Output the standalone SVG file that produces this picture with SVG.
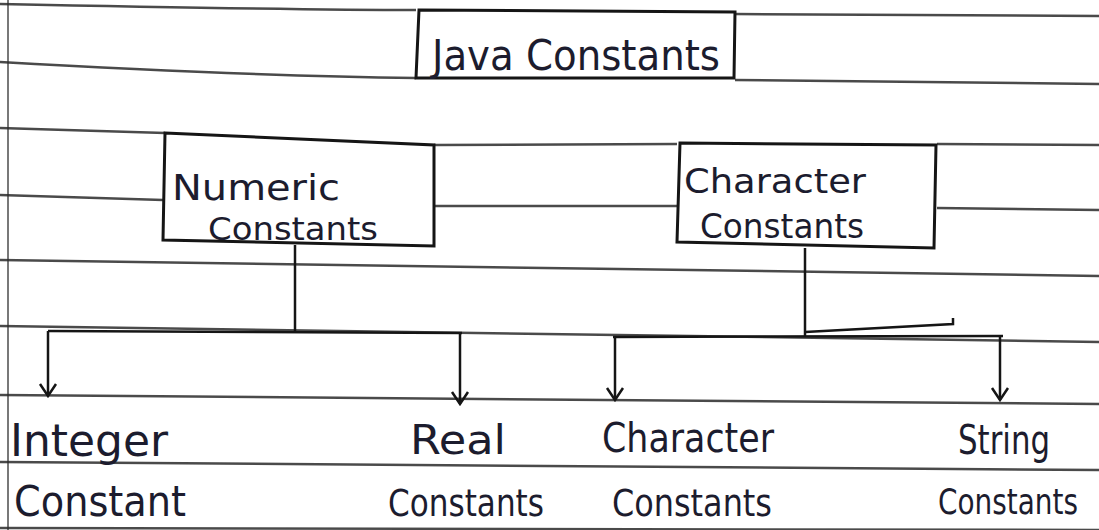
<svg xmlns="http://www.w3.org/2000/svg" width="1099" height="530" viewBox="0 0 1099 530">
<defs>
<style>
.rule{stroke:#2a2a2a;stroke-width:2.5;fill:none;opacity:0.85}
.box{stroke:#151515;stroke-width:3;fill:none}
.con{stroke:#151515;stroke-width:2.5;fill:none}
.t{font-family:"DejaVu Sans Condensed","Liberation Sans",sans-serif;fill:#1c1c2e;font-weight:normal}
</style>
<marker id="arr" viewBox="0 0 20 20" refX="18" refY="10" markerWidth="20" markerHeight="20" markerUnits="userSpaceOnUse" orient="auto">
<path d="M6,2 L18,10 L6,18" fill="none" stroke="#151515" stroke-width="2.5"/>
</marker>
</defs>
<rect width="1099" height="530" fill="#ffffff"/>
<g id="paper">
<path class="rule" d="M0,4 Q300,10 416,10 M735,14 L1099,16"/>
<path class="rule" d="M0,62 Q250,76 416,78 M735,80 L1099,84"/>
<path class="rule" d="M0,128 L165,133 M434,145 L677,144 M937,144 L1099,145"/>
<path class="rule" d="M0,195 L163,200 M434,206 L677,206 M937,208 L1099,210"/>
<path class="rule" d="M0,260 Q500,268 1099,276"/>
<path class="rule" d="M0,326 L1099,342"/>
<path class="rule" d="M0,395 Q600,402 1099,404"/>
<path class="rule" d="M0,462 Q600,466 1099,470"/>
<path class="rule" d="M0,528 L1099,530"/>
<path class="rule" d="M8,0 L8,530" style="stroke-width:1.5"/>
</g>
<g id="connectors">
<path class="con" d="M295,245 L295,331"/>
<path class="con" d="M48,331 L462,333"/>
<path class="con" d="M48,331 L48,396" marker-end="url(#arr)"/>
<path class="con" d="M460,333 L460,404" marker-end="url(#arr)"/>
<path class="con" d="M805,248 L805,337"/>
<path class="con" d="M805,332 Q880,328 953,324 L953,318"/>
<path class="con" d="M613,337 L1003,336"/>
<path class="con" d="M615,337 L615,400" marker-end="url(#arr)"/>
<path class="con" d="M1000,336 L1000,400" marker-end="url(#arr)"/>
</g>
<g id="java-constants">
<path class="box" d="M419,10 L735,12 L734,78 L416,78 Z"/>
<text class="t" x="432" y="70" font-size="42" textLength="288" lengthAdjust="spacingAndGlyphs">Java Constants</text>
</g>
<g id="numeric-constants">
<path class="box" d="M165,133 L434,145 L434,246 L163,240 Z"/>
<text class="t" x="172" y="200" font-size="36" textLength="168" lengthAdjust="spacingAndGlyphs">Numeric</text>
<text class="t" x="208" y="240" font-size="32" textLength="170" lengthAdjust="spacingAndGlyphs">Constants</text>
</g>
<g id="character-constants">
<path class="box" d="M680,143 L936,145 L934,248 L677,242 Z"/>
<text class="t" x="684" y="193" font-size="34" textLength="182" lengthAdjust="spacingAndGlyphs">Character</text>
<text class="t" x="700" y="238" font-size="34" textLength="164" lengthAdjust="spacingAndGlyphs">Constants</text>
</g>
<g id="integer-constant">
<text class="t" x="10" y="456" font-size="44" textLength="158" lengthAdjust="spacingAndGlyphs">Integer</text>
<text class="t" x="14" y="516" font-size="42" textLength="172" lengthAdjust="spacingAndGlyphs">Constant</text>
</g>
<g id="real-constants">
<text class="t" x="410" y="454" font-size="40" textLength="96" lengthAdjust="spacingAndGlyphs">Real</text>
<text class="t" x="388" y="516" font-size="38" textLength="156" lengthAdjust="spacingAndGlyphs">Constants</text>
</g>
<g id="character-constants-leaf">
<text class="t" x="602" y="452" font-size="40" textLength="172" lengthAdjust="spacingAndGlyphs">Character</text>
<text class="t" x="612" y="516" font-size="38" textLength="160" lengthAdjust="spacingAndGlyphs">Constants</text>
</g>
<g id="string-constants">
<text class="t" x="958" y="454" font-size="40" textLength="92" lengthAdjust="spacingAndGlyphs">String</text>
<text class="t" x="938" y="514" font-size="36" textLength="140" lengthAdjust="spacingAndGlyphs">Constants</text>
</g>
</svg>
